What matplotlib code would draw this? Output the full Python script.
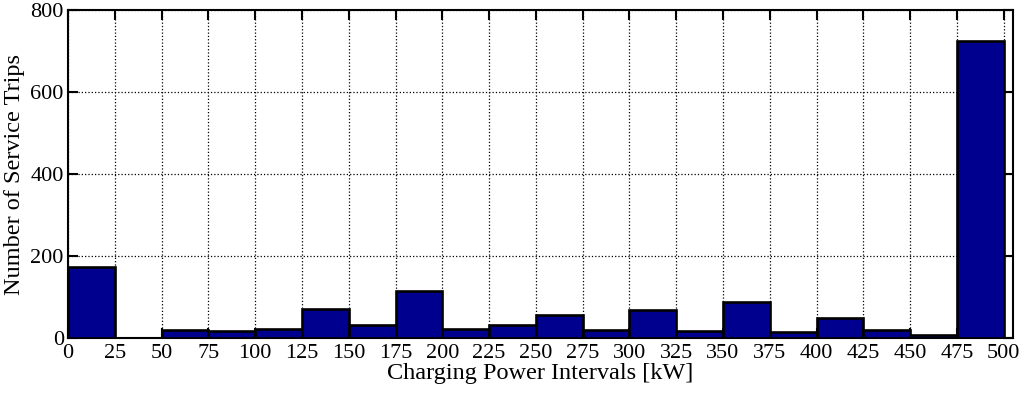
import matplotlib
matplotlib.use("Agg")
import matplotlib.pyplot as plt

bin_left = [0, 25, 50, 75, 100, 125, 150, 175, 200, 225, 250, 275, 300, 325, 350, 375, 400, 425, 450, 475]
counts = [174, 1, 20, 16, 23, 70, 33, 114, 23, 31, 55, 20, 69, 16, 88, 15, 50, 19, 7, 724]
xticks = list(range(0, 501, 25))
yticks = [0, 200, 400, 600, 800]

plt.rcParams['font.family'] = ['Liberation Serif', 'DejaVu Serif']

fig = plt.figure(figsize=(10.24, 3.94), dpi=100)
ax = fig.add_axes([0.0664, 0.142, 0.923, 0.8326])
ax.bar(bin_left, counts, width=25, align='edge', color='#00008F',
       edgecolor='black', linewidth=1.9, zorder=3)
ax.set_xlim(0, 505)
ax.set_ylim(0, 800)
ax.set_xticks(xticks)
ax.set_yticks(yticks)
ax.grid(True, linestyle=':', color='black', linewidth=0.9, zorder=0)
ax.set_axisbelow(True)
ax.tick_params(direction='in', length=7, width=1.5, top=True, right=True)
ax.tick_params(axis='x', labelsize=16, pad=4)
ax.tick_params(axis='y', labelsize=16, pad=3)
for s in ax.spines.values():
    s.set_linewidth(1.5)
ax.set_xlabel('Charging Power Intervals [kW]', fontsize=17.5, labelpad=0)
ax.set_ylabel('Number of Service Trips', fontsize=17.5, labelpad=4)
fig.savefig('out.png', dpi=100)
